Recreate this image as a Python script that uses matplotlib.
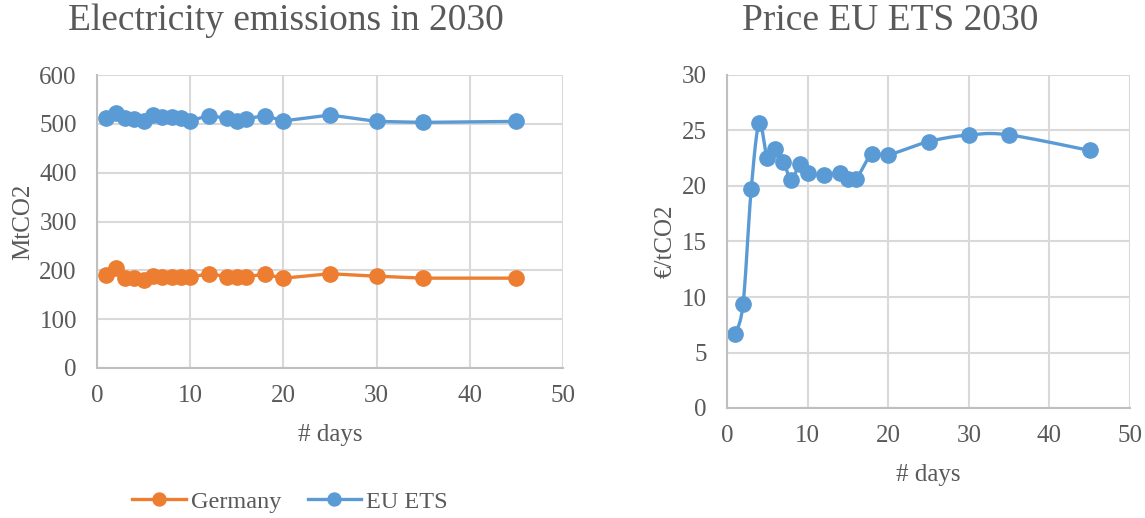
import numpy as np
import matplotlib
matplotlib.use("Agg")
import matplotlib.pyplot as plt
from matplotlib.lines import Line2D

# --- data -------------------------------------------------------------
days = [1, 2, 3, 4, 5, 6, 7, 8, 9, 10, 12, 14, 15, 16, 18, 20, 25, 30, 35, 45]

germany = [190, 205, 185, 184, 180, 189, 187, 187, 187, 186,
           193, 187, 186, 187, 192, 184, 193, 188, 184, 184]
eu_ets = [511, 523, 511, 510, 506, 518, 513, 513, 511, 506,
          517, 511, 506, 510, 517, 506, 518, 505, 503, 505]

price = [6.7, 9.4, 19.7, 25.7, 22.5, 23.3, 22.2, 20.5, 22.0, 21.2,
         21.0, 21.2, 20.6, 20.6, 22.9, 22.8, 24.0, 24.6, 24.6, 23.2]

title_left = "Electricity emissions in 2030"
title_right = "Price EU ETS 2030"
ylabel_left = "MtCO2"
ylabel_right = "€/tCO2"
xlabel = "# days"
series_names = ["Germany", "EU ETS"]

# --- style ------------------------------------------------------------
ORANGE = "#ED7D31"
BLUE = "#5B9BD5"
TEXT = "#595959"
GRID = "#D9D9D9"
SPINE = "#BFBFBF"

plt.rcParams["font.family"] = ["Liberation Serif", "DejaVu Serif"]
plt.rcParams["text.color"] = TEXT

W, H = 1145, 518
fig = plt.figure(figsize=(W / 100, H / 100), dpi=100)


def px_axes(x0, y_top, x1, y_bottom):
    return fig.add_axes([x0 / W, 1 - y_bottom / H, (x1 - x0) / W, (y_bottom - y_top) / H])


def style_axes(ax):
    for side in ("top", "right"):
        ax.spines[side].set_visible(False)
    for side in ("left", "bottom"):
        ax.spines[side].set_color(SPINE)
        ax.spines[side].set_linewidth(1.5)
    ax.grid(True, color=GRID, linewidth=1.5)
    ax.set_axisbelow(True)
    ax.tick_params(length=0, labelsize=18, labelcolor=TEXT)
    ax.tick_params(axis="y", pad=14.5)
    ax.tick_params(axis="x", pad=12.5)


def smooth_curve(x, y, steps=20):
    """Cardinal-spline path through the points (office-style smoothed line)."""
    x = np.asarray(x, float)
    y = np.asarray(y, float)
    n = len(x)
    xs, ys = [x[0]], [y[0]]
    for i in range(n - 1):
        p0 = np.array([x[max(i - 1, 0)], y[max(i - 1, 0)]])
        p1 = np.array([x[i], y[i]])
        p2 = np.array([x[i + 1], y[i + 1]])
        p3 = np.array([x[min(i + 2, n - 1)], y[min(i + 2, n - 1)]])
        c1 = p1 + (p2 - p0) / 6.0
        c2 = p2 - (p3 - p1) / 6.0
        t = np.linspace(0, 1, steps)[1:, None]
        pts = ((1 - t) ** 3) * p1 + 3 * ((1 - t) ** 2) * t * c1 + 3 * (1 - t) * t ** 2 * c2 + t ** 3 * p2
        xs.extend(pts[:, 0])
        ys.extend(pts[:, 1])
    return np.array(xs), np.array(ys)


MS = 11
LW = 2.4

# --- left: emissions --------------------------------------------------
ax1 = px_axes(97, 75, 563, 368)
style_axes(ax1)
ax1.plot(days, germany, color=ORANGE, lw=LW, marker="o", ms=MS, label=series_names[0])
ax1.plot(days, eu_ets, color=BLUE, lw=LW, marker="o", ms=MS, label=series_names[1])
ax1.set_xlim(0, 50)
ax1.set_ylim(0, 600)
ax1.set_xticks(range(0, 51, 10))
ax1.set_yticks(range(0, 601, 100))
ax1.set_xlabel(xlabel, fontsize=18, color=TEXT, labelpad=12)
ax1.set_ylabel(ylabel_left, fontsize=18, color=TEXT, labelpad=3.5)
fig.text(286 / W, 1 - 21 / H, title_left, ha="center", va="center", fontsize=27, color=TEXT)

handles = [Line2D([], [], color=ORANGE, lw=LW, marker="o", ms=MS * 0.85),
           Line2D([], [], color=BLUE, lw=LW, marker="o", ms=MS * 0.85)]
fig.legend(handles, series_names, loc="center", bbox_to_anchor=(290 / W, 1 - 502 / H),
           ncol=2, frameon=False, fontsize=17.5, handlelength=2.2, columnspacing=1.1,
           handletextpad=0.2, labelcolor=TEXT)

# --- right: price -----------------------------------------------------
ax2 = px_axes(727, 75, 1130, 408)
style_axes(ax2)
sx, sy = smooth_curve(days, price)
ax2.plot(sx, sy, color=BLUE, lw=LW)
ax2.plot(days, price, ls="none", color=BLUE, marker="o", ms=MS)
ax2.set_xlim(0, 50)
ax2.set_ylim(0, 30)
ax2.set_xticks(range(0, 51, 10))
ax2.set_yticks(range(0, 31, 5))
ax2.set_xlabel(xlabel, fontsize=18, color=TEXT, labelpad=12)
ax2.set_ylabel(ylabel_right, fontsize=18, color=TEXT, labelpad=3.5)
fig.text(890 / W, 1 - 21 / H, title_right, ha="center", va="center", fontsize=27, color=TEXT)

fig.savefig("out.png", dpi=100)
